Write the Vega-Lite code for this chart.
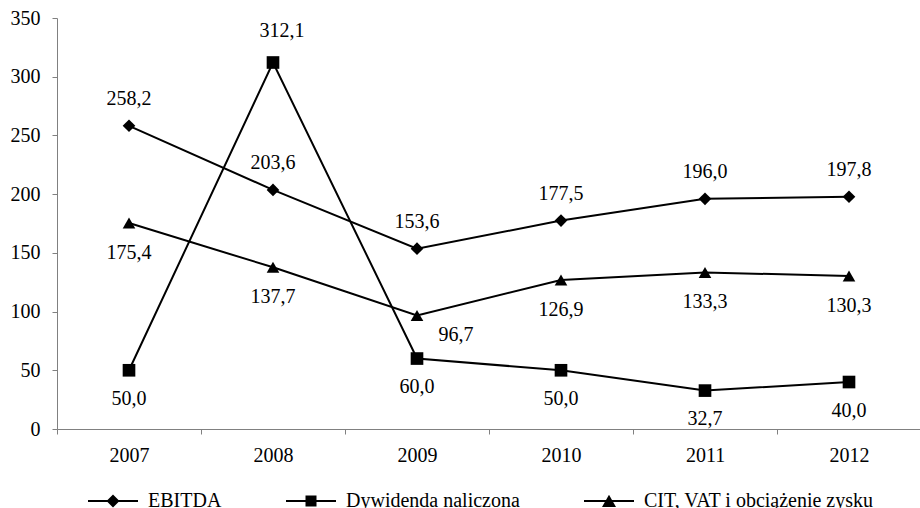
{
  "$schema": "https://vega.github.io/schema/vega-lite/v6.json",
  "width": 864,
  "height": 411,
  "autosize": "none",
  "padding": {"left": 57, "top": 18, "right": 0, "bottom": 79},
  "background": "white",
  "config": {
    "view": {"stroke": null},
    "font": "Liberation Serif",
    "locale": {"number": {"decimal": ",", "thousands": " ", "grouping": [3], "currency": ["", " zł"]}}
  },
  "data": {
    "values": [
      {"year": "2007", "series": "EBITDA", "value": 258.2},
      {"year": "2008", "series": "EBITDA", "value": 203.6},
      {"year": "2009", "series": "EBITDA", "value": 153.6},
      {"year": "2010", "series": "EBITDA", "value": 177.5},
      {"year": "2011", "series": "EBITDA", "value": 196.0},
      {"year": "2012", "series": "EBITDA", "value": 197.8},
      {"year": "2007", "series": "Dywidenda naliczona", "value": 50.0},
      {"year": "2008", "series": "Dywidenda naliczona", "value": 312.1},
      {"year": "2009", "series": "Dywidenda naliczona", "value": 60.0},
      {"year": "2010", "series": "Dywidenda naliczona", "value": 50.0},
      {"year": "2011", "series": "Dywidenda naliczona", "value": 32.7},
      {"year": "2012", "series": "Dywidenda naliczona", "value": 40.0},
      {"year": "2007", "series": "CIT, VAT i obciążenie zysku", "value": 175.4},
      {"year": "2008", "series": "CIT, VAT i obciążenie zysku", "value": 137.7},
      {"year": "2009", "series": "CIT, VAT i obciążenie zysku", "value": 96.7},
      {"year": "2010", "series": "CIT, VAT i obciążenie zysku", "value": 126.9},
      {"year": "2011", "series": "CIT, VAT i obciążenie zysku", "value": 133.3},
      {"year": "2012", "series": "CIT, VAT i obciążenie zysku", "value": 130.3}
    ]
  },
  "encoding": {
    "x": {
      "field": "year", "type": "ordinal",
      "scale": {"type": "band", "paddingInner": 0, "paddingOuter": 0},
      "axis": {
        "title": null, "labelAngle": 0, "tickBand": "extent",
        "labelFont": "Liberation Serif", "labelFontSize": 20, "labelColor": "black",
        "labelPadding": 11, "tickSize": 5, "tickColor": "#808080", "domainColor": "#808080",
        "grid": false
      }
    },
    "y": {
      "field": "value", "type": "quantitative",
      "scale": {"domain": [0, 350], "nice": false},
      "axis": {
        "title": null, "values": [0, 50, 100, 150, 200, 250, 300, 350],
        "labelFont": "Liberation Serif", "labelFontSize": 20, "labelColor": "black",
        "labelPadding": 12, "tickSize": 5, "tickColor": "#808080", "domainColor": "#808080",
        "grid": false
      }
    }
  },
  "resolve": {"scale": {"shape": "independent"}, "legend": {"shape": "independent"}},
  "layer": [
    {
      "mark": {"type": "line", "color": "black", "strokeWidth": 2},
      "encoding": {"detail": {"field": "series"}}
    },
    {
      "mark": {"type": "point", "filled": true, "color": "black", "opacity": 1, "size": 160},
      "encoding": {
        "shape": {
          "field": "series", "type": "nominal",
          "scale": {
            "domain": ["EBITDA", "Dywidenda naliczona", "CIT, VAT i obciążenie zysku"],
            "range": ["diamond", "square", "triangle-up"]
          },
          "legend": null
        }
      }
    },
    {
      "mark": {"type": "point", "filled": true, "color": "black", "opacity": 0, "size": 160},
      "encoding": {
        "shape": {
          "field": "series", "type": "nominal",
          "scale": {
            "domain": ["EBITDA", "Dywidenda naliczona", "CIT, VAT i obciążenie zysku"],
            "range": [
              "M-1,-0.036H1V0.036H-1ZM-0.26,0L0,-0.26L0.26,0L0,0.26Z",
              "M-1,-0.036H1V0.036H-1ZM-0.22,-0.22H0.22V0.22H-0.22Z",
              "M-1,-0.036H1V0.036H-1ZM-0.28,0.24L0,-0.25L0.28,0.24Z"
            ]
          },
          "legend": {
            "title": null, "orient": "none", "direction": "horizontal",
            "legendX": 31, "legendY": 458, "padding": 0,
            "labelFont": "Liberation Serif", "labelFontSize": 20, "labelColor": "black", "labelLimit": 0,
            "labelOffset": 10, "columnPadding": 64, "symbolSize": 2500, "symbolOpacity": 1,
            "symbolFillColor": "black", "symbolStrokeColor": "black", "symbolStrokeWidth": 0
          }
        }
      }
    },
    {
      "transform": [{"filter": "datum.series === 'EBITDA'"}],
      "mark": {"type": "text", "dy": -27, "fontSize": 20, "font": "Liberation Serif", "color": "black", "baseline": "middle"},
      "encoding": {"text": {"field": "value", "type": "quantitative", "format": ".1f"}}
    },
    {
      "transform": [{"filter": "datum.series === 'Dywidenda naliczona' && datum.year === '2008'"}],
      "mark": {"type": "text", "dy": -32, "dx": 9, "fontSize": 20, "font": "Liberation Serif", "color": "black", "baseline": "middle"},
      "encoding": {"text": {"field": "value", "type": "quantitative", "format": ".1f"}}
    },
    {
      "transform": [{"filter": "datum.series === 'Dywidenda naliczona' && datum.year !== '2008'"}],
      "mark": {"type": "text", "dy": 28.5, "fontSize": 20, "font": "Liberation Serif", "color": "black", "baseline": "middle"},
      "encoding": {"text": {"field": "value", "type": "quantitative", "format": ".1f"}}
    },
    {
      "transform": [{"filter": "datum.series === 'CIT, VAT i obciążenie zysku' && datum.year !== '2009'"}],
      "mark": {"type": "text", "dy": 30, "fontSize": 20, "font": "Liberation Serif", "color": "black", "baseline": "middle"},
      "encoding": {"text": {"field": "value", "type": "quantitative", "format": ".1f"}}
    },
    {
      "transform": [{"filter": "datum.series === 'CIT, VAT i obciążenie zysku' && datum.year === '2009'"}],
      "mark": {"type": "text", "dy": 20, "dx": 39, "fontSize": 20, "font": "Liberation Serif", "color": "black", "baseline": "middle"},
      "encoding": {"text": {"field": "value", "type": "quantitative", "format": ".1f"}}
    }
  ]
}
